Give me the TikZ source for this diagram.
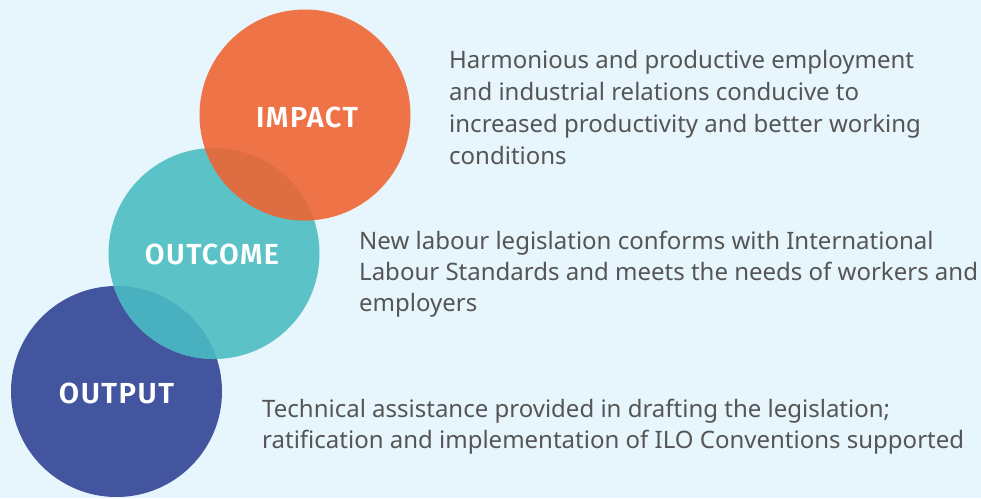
\documentclass[tikz,border=0pt]{standalone}
\usepackage{fontspec}
\setmainfont{Noto Sans}
\newfontfamily\lblfont{Fira Sans}[BoldFont={Fira Sans SemiBold},LetterSpace=5]
\usepackage{graphicx}
\definecolor{bg}{HTML}{E7F5FC}
\definecolor{impactc}{HTML}{EE7447}
\definecolor{outcomec}{HTML}{5BC3C8}
\definecolor{outputc}{HTML}{43559E}
\definecolor{ovA}{HTML}{DE6D42}
\definecolor{ovB}{HTML}{48B0BF}
\definecolor{txt}{HTML}{555555}
\newcommand{\fitw}[2]{\resizebox{#1pt}{\height}{#2}}
\tikzset{
  lbl/.style={text=white,font=\fontsize{29}{32}\lblfont\bfseries,inner sep=0pt,anchor=base},
  body/.style={text=txt,font=\fontsize{24}{32}\selectfont,inner sep=0pt,anchor=base west},
}
\begin{document}
\begin{tikzpicture}[x=1pt,y=-1pt]
\fill[bg] (0,0) rectangle (981,498);
\useasboundingbox (0,0) rectangle (981,498);
% circles
\fill[outputc] (116.5,391.5) circle (105.5);
\fill[outcomec] (214,253.5) circle (105.5);
\begin{scope}
  \clip (116.5,391.5) circle (105.5);
  \fill[ovB] (214,253.5) circle (105.5);
\end{scope}
\fill[impactc] (305,115) circle (105.5);
\begin{scope}
  \clip (214,253.5) circle (105.5);
  \fill[ovA] (305,115) circle (105.5);
\end{scope}
% labels
\node[lbl] (limpact) at (307,127) {\fitw{102}{IMPACT}};
\node[lbl] (loutcome) at (212,264) {\fitw{134}{OUTCOME}};
\node[lbl] (loutput) at (116.5,403) {\fitw{115}{OUTPUT}};
% block 1
\node[body] (a1) at (449,68) {Harmonious and productive employment};
\node[body] (a2) at (449,100) {and industrial relations conducive to};
\node[body] (a3) at (449,132) {increased productivity and better working};
\node[body] (a4) at (449,164) {conditions};
% block 2
\node[body] (b1) at (359,249) {New labour legislation conforms with International};
\node[body] (b2) at (359,280) {Labour Standards and meets the needs of workers and};
\node[body] (b3) at (359,311) {employers};
% block 3
\node[body] (c1) at (262,417) {Technical assistance provided in drafting the legislation;};
\node[body] (c2) at (262,448) {ratification and implementation of ILO Conventions supported};
\end{tikzpicture}
\end{document}
